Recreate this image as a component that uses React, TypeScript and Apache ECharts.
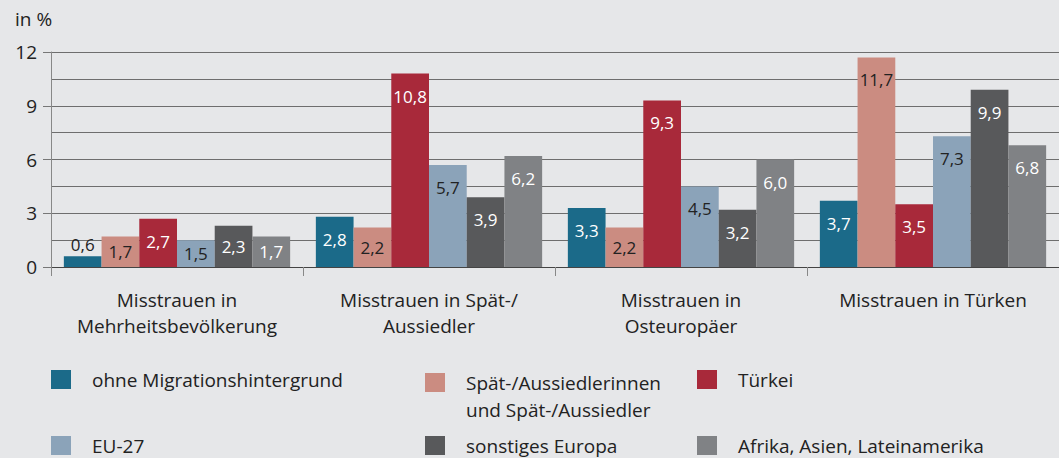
import React, { useEffect, useRef } from "react";
import * as echarts from "echarts";

const categories = [
  "Misstrauen in\nMehrheitsbevölkerung",
  "Misstrauen in Spät-/\nAussiedler",
  "Misstrauen in\nOsteuropäer",
  "Misstrauen in Türken",
];

const seriesNames = [
  "ohne Migrationshintergrund",
  "Spät-/Aussiedlerinnen und Spät-/Aussiedler",
  "Türkei",
  "EU-27",
  "sonstiges Europa",
  "Afrika, Asien, Lateinamerika",
];

const ohneMigration = [0.6, 2.8, 3.3, 3.7];
const spaetAussiedler = [1.7, 2.2, 2.2, 11.7];
const tuerkei = [2.7, 10.8, 9.3, 3.5];
const eu27 = [1.5, 5.7, 4.5, 7.3];
const sonstigesEuropa = [2.3, 3.9, 3.2, 9.9];
const afrikaAsienLA = [1.7, 6.2, 6.0, 6.8];

const seriesValues = [ohneMigration, spaetAussiedler, tuerkei, eu27, sonstigesEuropa, afrikaAsienLA];

const yTicks = [0, 3, 6, 9, 12];

const colors = ["#1b6a89", "#cb8c81", "#a8293a", "#8ba3b9", "#58595b", "#808285"];
const labelColors = ["#ffffff", "#222222", "#ffffff", "#222222", "#ffffff", "#ffffff"];

const FONT = "'Open Sans', 'Noto Sans', sans-serif";
const TEXT = "#222222";

const legendPos = [
  { left: 51, top: 369 },
  { left: 425, top: 369 },
  { left: 697, top: 369 },
  { left: 51, top: 435 },
  { left: 425, top: 435 },
  { left: 697, top: 435 },
];

// square icon at top, with an invisible speck to extend the icon box to two text lines
const TWO_LINE_ICON = "path://M0,0h20v19h-20z M0,45.99h0.01v0.01h-0.01z";

const fmt = (v: number) => v.toFixed(1).replace(".", ",");

export default function App() {
  const ref = useRef<HTMLDivElement>(null);
  useEffect(() => {
    if (!ref.current) return;
    const chart = echarts.init(ref.current, undefined, { renderer: "svg" });

    const series = seriesValues.map((vals, si) => ({
      name: seriesNames[si],
      type: "bar",
      barGap: "0%",
      barCategoryGap: "10.2%",
      itemStyle: { color: colors[si] },
      data: vals.map((v) => {
        let label: any;
        if (v < 1) {
          label = { position: "top", distance: 3, color: TEXT };
        } else if (v < 2.5) {
          label = { position: "inside", color: labelColors[si] };
        } else {
          label = { position: "insideTop", distance: 14, color: labelColors[si] };
        }
        return { value: v, label };
      }),
      label: {
        show: true,
        fontFamily: FONT,
        fontSize: 17,
        formatter: (p: any) => fmt(p.value),
      },
    }));

    const legends = seriesNames.map((name, i) => {
      const twoLine = name.indexOf(" und ") >= 0;
      return {
        data: [name],
        left: legendPos[i].left,
        top: legendPos[i].top,
        padding: 0,
        itemWidth: 20,
        itemHeight: twoLine ? 46 : 19,
        icon: twoLine ? TWO_LINE_ICON : "rect",
        selectedMode: false,
        formatter: (n: string) => n.replace(" und ", "\nund "),
        textStyle: {
          fontFamily: FONT,
          fontSize: 19,
          color: TEXT,
          lineHeight: twoLine ? 27 : 21,
          padding: [0, 0, 0, 16],
        },
      };
    });

    chart.setOption({
      animation: false,
      backgroundColor: "#e6e7e9",
      title: {
        text: "in %",
        left: 15,
        top: 9,
        padding: 0,
        textStyle: { fontFamily: FONT, fontSize: 19, fontWeight: "normal", color: TEXT },
      },
      legend: legends,
      grid: { left: 51, top: 52, width: 1016, height: 215, containLabel: false },
      xAxis: {
        type: "category",
        data: categories,
        axisLine: { show: true, lineStyle: { color: "#444444", width: 1 } },
        axisTick: { show: true, length: 9, alignWithLabel: false, lineStyle: { color: "#888888" } },
        axisLabel: {
          interval: 0,
          fontFamily: FONT,
          fontSize: 19,
          lineHeight: 26,
          margin: 20,
          color: TEXT,
        },
      },
      yAxis: {
        type: "value",
        min: yTicks[0],
        max: yTicks[yTicks.length - 1],
        interval: 3,
        axisLine: { show: true, lineStyle: { color: "#888888" } },
        axisTick: { show: true, length: 8, lineStyle: { color: "#777777" } },
        axisLabel: { fontFamily: FONT, fontSize: 19, color: TEXT, margin: 14 },
        splitLine: { show: true, lineStyle: { color: "#6e6e6e", width: 1 } },
        minorTick: { show: false, splitNumber: 2 },
        minorSplitLine: { show: true, lineStyle: { color: "#6e6e6e", width: 1 } },
      },
      series,
    });
    return () => chart.dispose();
  }, []);

  return (
    <div
      ref={ref}
      style={{ position: "absolute", left: 0, top: 0, width: 1059, height: 458 }}
    />
  );
}
